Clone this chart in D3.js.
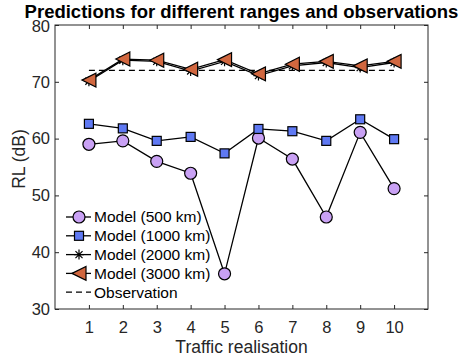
<!DOCTYPE html>
<html>
<head>
<meta charset="utf-8">
<script src="https://cdn.jsdelivr.net/npm/d3@7"></script>
<style>
  body { margin: 0; background: #fff; }
  text { font-family: "Liberation Sans", Arial, sans-serif; }
</style>
</head>
<body>
<div id="chart"></div>
<script>
// values
var realisations = [1, 2, 3, 4, 5, 6, 7, 8, 9, 10];
var model500 = [59.0, 59.6, 56.0, 53.9, 36.2, 60.1, 56.4, 46.2, 61.1, 51.2];
var model1000 = [62.6, 61.8, 59.6, 60.3, 57.4, 61.7, 61.3, 59.6, 63.4, 59.9];
var model2000 = [70.1, 73.8, 73.6, 71.9, 73.6, 71.1, 72.8, 73.4, 72.5, 73.4];
var model3000 = [70.3, 74.0, 73.8, 72.2, 73.9, 71.4, 73.1, 73.6, 72.8, 73.6];
var observation = 72;
var yTicks = [30, 40, 50, 60, 70, 80];
var legendLabels = ["Model (500 km)", "Model (1000 km)", "Model (2000 km)", "Model (3000 km)", "Observation"];

var width = 469, height = 356;
var margin = {top: 25, right: 41, bottom: 47, left: 55};
var innerW = width - margin.left - margin.right,
    innerH = height - margin.top - margin.bottom;

var svg = d3.select("#chart").append("svg")
    .attr("width", width)
    .attr("height", height);

var g = svg.append("g")
    .attr("transform", "translate(" + margin.left + "," + margin.top + ")");

var x = d3.scaleLinear().domain([0, 11]).range([0, innerW]);
var y = d3.scaleLinear().domain([30, 80]).range([innerH, 0]);

var axisColor = "#262626";

// box with inward ticks on all four sides
g.append("rect")
    .attr("width", innerW).attr("height", innerH)
    .attr("fill", "none").attr("stroke", axisColor).attr("stroke-width", 1);

var xAxis = g.append("g")
    .attr("transform", "translate(0," + innerH + ")")
    .call(d3.axisBottom(x).tickValues(realisations).tickSizeInner(-4).tickSizeOuter(0).tickPadding(12));
var xTop = g.append("g")
    .call(d3.axisTop(x).tickValues(realisations).tickSizeInner(-4).tickSizeOuter(0).tickFormat(""));
var yAxis = g.append("g")
    .call(d3.axisLeft(y).tickValues(yTicks).tickSizeInner(-4).tickSizeOuter(0).tickPadding(5));
var yRight = g.append("g")
    .attr("transform", "translate(" + innerW + ",0)")
    .call(d3.axisRight(y).tickValues(yTicks).tickSizeInner(-4).tickSizeOuter(0).tickFormat(""));

[xAxis, xTop, yAxis, yRight].forEach(function(a) {
    a.select(".domain").remove();
    a.selectAll("line").attr("stroke", axisColor);
    a.selectAll("text")
        .attr("fill", axisColor)
        .style("font-size", "16.5px")
        .style("font-family", "Liberation Sans, Arial, sans-serif");
});

// the "80" label sits a touch lower so the title clears it
yAxis.selectAll(".tick text").filter(function(d) { return d === 80; })
    .attr("dy", "0.42em");

// labels
svg.append("text")
    .attr("x", margin.left + innerW / 2).attr("y", 17.5)
    .attr("text-anchor", "middle")
    .style("font-size", "18.5px").style("font-weight", "bold")
    .attr("fill", "#000")
    .text("Predictions for different ranges and observations");

svg.append("text")
    .attr("x", margin.left + innerW / 2).attr("y", 353)
    .attr("text-anchor", "middle")
    .style("font-size", "17.5px")
    .attr("fill", axisColor)
    .text("Traffic realisation");

svg.append("text")
    .attr("transform", "translate(25,159) rotate(-90)")
    .attr("text-anchor", "middle")
    .style("font-size", "17.5px")
    .attr("fill", axisColor)
    .text("RL (dB)");

var line = d3.line()
    .x(function(d, i) { return x(realisations[i]); })
    .y(function(d) { return y(d); });

// observation dashed line
g.append("line")
    .attr("x1", x(1)).attr("x2", x(10))
    .attr("y1", y(observation)).attr("y2", y(observation))
    .attr("stroke", "#000").attr("stroke-width", 1.3)
    .attr("stroke-dasharray", "6,4");

var colors = {c500: "#c9a1f4", c1000: "#5f79f3", c3000: "#d1673f"};

function drawCircle(sel, cx, cy) {
    sel.append("circle").attr("cx", cx).attr("cy", cy).attr("r", 6)
        .attr("fill", colors.c500).attr("stroke", "#000").attr("stroke-width", 1.2);
}
function drawSquare(sel, cx, cy) {
    sel.append("rect").attr("x", cx - 4.5).attr("y", cy - 4.5)
        .attr("width", 9).attr("height", 9)
        .attr("fill", colors.c1000).attr("stroke", "#000").attr("stroke-width", 1.2);
}
function drawStar(sel, cx, cy) {
    var r = 5;
    var p = "";
    [0, 45, 90, 135].forEach(function(a) {
        var rad = a * Math.PI / 180;
        p += "M" + (cx - r * Math.cos(rad)) + "," + (cy - r * Math.sin(rad)) +
             "L" + (cx + r * Math.cos(rad)) + "," + (cy + r * Math.sin(rad));
    });
    sel.append("path").attr("d", p).attr("stroke", "#000").attr("stroke-width", 1.2);
}
function drawTriangle(sel, cx, cy) {
    var s = 7;
    var p = "M" + (cx - s) + "," + cy +
            "L" + (cx + s) + "," + (cy - s) +
            "L" + (cx + s) + "," + (cy + s) + "Z";
    sel.append("path").attr("d", p)
        .attr("fill", colors.c3000).attr("stroke", "#000").attr("stroke-width", 1.2)
        .attr("stroke-linejoin", "miter");
}

var series = [
    {data: model500, marker: drawCircle},
    {data: model1000, marker: drawSquare},
    {data: model2000, marker: drawStar},
    {data: model3000, marker: drawTriangle}
];

series.forEach(function(s) {
    var sg = g.append("g");
    sg.append("path")
        .datum(s.data)
        .attr("d", line)
        .attr("fill", "none")
        .attr("stroke", "#000")
        .attr("stroke-width", 1.3);
    s.data.forEach(function(v, i) {
        s.marker(sg, x(realisations[i]), y(v));
    });
});

// legend
var legend = g.append("g");
var legendY0 = 192, legendStep = 18.8;
legendLabels.forEach(function(lbl, i) {
    var ly = legendY0 + i * legendStep;
    var lgi = legend.append("g");
    if (i < 4) {
        lgi.append("line").attr("x1", 11).attr("x2", 36).attr("y1", ly).attr("y2", ly)
            .attr("stroke", "#000").attr("stroke-width", 1.3);
        series[i].marker(lgi, 24, ly);
    } else {
        lgi.append("line").attr("x1", 11).attr("x2", 36).attr("y1", ly).attr("y2", ly)
            .attr("stroke", "#000").attr("stroke-width", 1.3).attr("stroke-dasharray", "6,4");
    }
    lgi.append("text")
        .attr("x", 39).attr("y", ly).attr("dy", "0.35em")
        .style("font-size", "15.5px")
        .attr("fill", "#000")
        .text(lbl);
});
</script>
</body>
</html>
